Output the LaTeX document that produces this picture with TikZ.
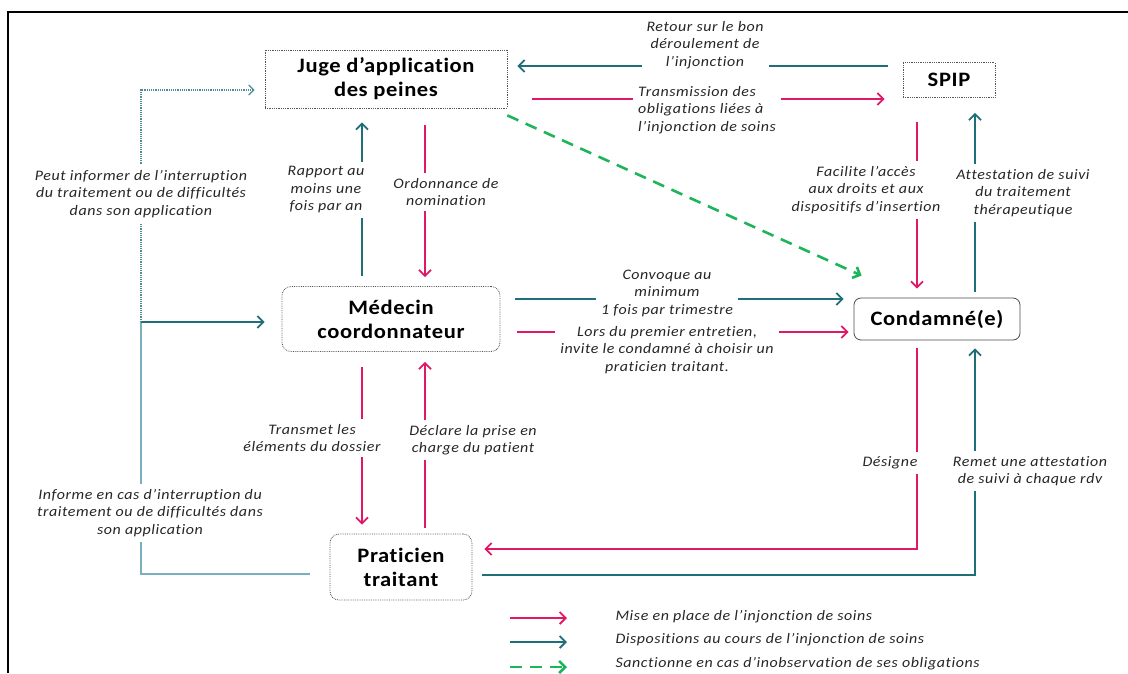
\documentclass[tikz,border=0pt]{standalone}
\usepackage{fontspec}
\setmainfont{Carlito}[Ligatures=NoCommon]
\newfontfamily\boitefont{Carlito}[Ligatures=NoCommon, FakeStretch=1.1, LetterSpace=3]
\newfontfamily\notefont{Carlito}[Ligatures=NoCommon, FakeStretch=1.1, LetterSpace=4]
\usetikzlibrary{arrows.meta,calc}
\definecolor{rose}{RGB}{224,24,104}
\definecolor{petrol}{RGB}{31,111,122}
\definecolor{petrolclair}{RGB}{120,176,188}
\definecolor{vert}{RGB}{30,180,90}
\definecolor{bordgris}{RGB}{85,85,85}

\tikzset{
  acteur/.style={draw=bordgris, densely dotted, line width=0.8, align=center, text=black,
    font=\boitefont\bfseries\fontsize{20.5}{24}\selectfont},
  note/.style={fill=white, align=center, inner sep=5pt, text=black!85,
    font=\notefont\itshape\fontsize{14.5}{17.5}\selectfont},
  legende/.style={anchor=west, text=black!85, font=\notefont\itshape\fontsize{14.5}{17.5}\selectfont},
  fleche/.style={line width=1.8, -{Straight Barb[length=6,width=12]}},
  mise/.style={fleche, rose},
  suivi/.style={fleche, petrol},
  sanction/.style={fleche, vert, line width=2.6, dash pattern=on 12 off 8},
}

\begin{document}
\begin{tikzpicture}[x=1pt,y=-1pt]
\useasboundingbox (0,0) rectangle (1128,673);
\draw[line width=1.5] (8,673) |- (1128,12);

\node[acteur, minimum width=242, minimum height=58] (jap) at (386,79) {Juge d’application\\des peines};
\node[acteur, minimum width=92, minimum height=35] (spip) at (949,80) {SPIP};
\node[acteur, rounded corners=9, minimum width=218, minimum height=65] (med) at (391,319) {Médecin\\coordonnateur};
\node[acteur, draw=black!70, solid, rounded corners=7, minimum width=166, minimum height=42] (cond) at (937,319) {Condamné(e)};
\node[acteur, rounded corners=9, minimum width=142, minimum height=66] (prat) at (401,567) {Praticien\\traitant};
\coordinate (fourche) at (141,322);

\draw[suivi] ($(spip.west)+(-15,-14)$) -- ($(jap.east)+(10,-13)$);
\draw[mise] ($(jap.east)+(25,20)$) -- ($(spip.west)+(-18,19)$);
\draw[sanction] ($(jap.south east)+(0,7)$) -- ($(cond.north west)+(8,-22)$);
\draw[suivi] ($(med.north)+(-29,-10)$) -- ($(jap.south)+(-24,14)$);
\draw[mise] ($(jap.south)+(39,17)$) -- ($(med.north)+(34,-9)$);
\draw[mise] ($(spip.south)+(-32,24)$) -- ($(cond.north)+(-20,-9)$);
\draw[suivi] ($(cond.north)+(38,-6)$) -- ($(spip.south)+(26,15)$);
\draw[suivi] ($(med.east)+(15,-20)$) -- ($(cond.west)+(-10,-20)$);
\draw[mise] ($(med.east)+(17,13)$) -- ($(cond.west)+(-5,13)$);
\draw[mise] ($(med.south)+(-29,15)$) -- ($(prat.north)+(-39,-9)$);
\draw[mise] ($(prat.north)+(24,-6)$) -- ($(med.south)+(34,10)$);
\draw[mise] ($(cond.south)+(-20,8)$) |- ($(prat.east)+(12,-18)$);
\draw[suivi] ($(prat.east)+(10,8)$) -| ($(cond.south)+(38,8)$);
\draw[petrolclair, line width=1.8] ($(prat.west)+(-20,7)$) -| (fourche);
\draw[suivi] (fourche) -- ($(med.west)+(-17,3)$);
\draw[petrol!80, line width=1.2, densely dotted, -{Straight Barb[length=5,width=10]}] (fourche) |- ($(jap.west)+(-10,11)$);

\node[note] (retour) at (705,45) {Retour sur le bon\\déroulement de\\l’injonction};
\node[note, align=left, anchor=west] (transm) at (633,110) {Transmission des\\obligations liées à\\l’injonction de soins};
\node[note] (peut) at (141,194) {Peut informer de l’interruption\\du traitement ou de difficultés\\dans son application};
\node[note] (rapport) at (326,190) {Rapport au\\moins une\\fois par an};
\node[note] (ordo) at (446,192) {Ordonnance de\\nomination};
\node[note] (facilite) at (866,190) {Facilite l’accès\\aux droits et aux\\dispositifs d’insertion};
\node[note] (attest) at (1023,193) {Attestation de suivi\\du traitement\\thérapeutique};
\node[note] (convoque) at (667,293) {Convoque au\\minimum\\1 fois par trimestre};
\node[note] (lors) at (667,350) {Lors du premier entretien,\\invite le condamné à choisir un\\praticien traitant.};
\node[note] (transmet) at (312,438) {Transmet les\\éléments du dossier};
\node[note] (declare) at (473,440) {Déclare la prise en\\charge du patient};
\node[note] (designe) at (890,463) {Désigne};
\node[note] (remet) at (1030,471) {Remet une attestation\\de suivi à chaque rdv};
\node[note] (informe) at (150,513) {Informe en cas d’interruption du\\traitement ou de difficultés dans\\son application};

\coordinate (l1a) at (510,618); \coordinate (l1b) at (567,618);
\coordinate (l2a) at (510,642); \coordinate (l2b) at (567,642);
\coordinate (l3a) at (510,667); \coordinate (l3b) at (567,667);
\draw[mise] (l1a) -- (l1b);
\draw[suivi] (l2a) -- (l2b);
\draw[sanction] (l3a) -- (l3b);
\node[legende] (leg1) at (612,617) {Mise en place de l’injonction de soins};
\node[legende] (leg2) at (612,640) {Dispositions au cours de l’injonction de soins};
\node[legende] (leg3) at (612,664) {Sanctionne en cas d’inobservation de ses obligations};
\end{tikzpicture}
\end{document}
